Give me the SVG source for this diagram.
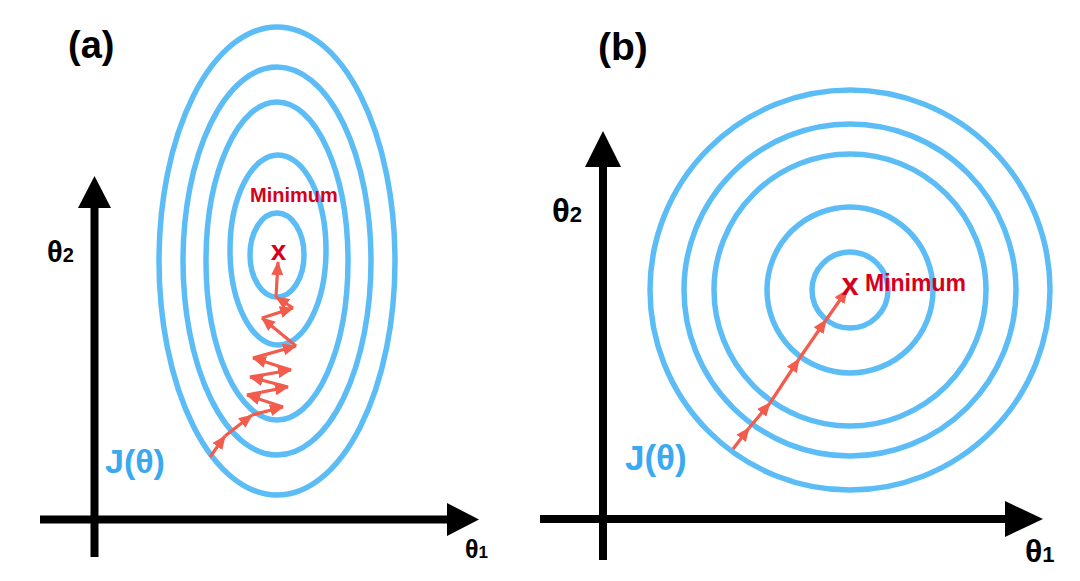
<svg xmlns="http://www.w3.org/2000/svg" width="1080" height="581" viewBox="0 0 1080 581">
<style>
.contour{fill:none;stroke:#5cbdf6;stroke-width:5.5}
.axis{stroke:#000;stroke-width:8;fill:none}
.head{fill:#000}
.step{stroke:#f25c4c;stroke-width:3.2;fill:none;marker-end:url(#ah)}
.lbl{font-family:"Liberation Sans",Arial,sans-serif;font-weight:bold}
.red{fill:#d5001c}
.blue{fill:#3aa9f0}
</style>
<defs>
<marker id="ah" viewBox="0 0 14 12" refX="13" refY="6" markerWidth="14" markerHeight="12" markerUnits="userSpaceOnUse" orient="auto">
<path d="M0,0 L14,6 L0,12 z" fill="#f25c4c"/>
</marker>
</defs>
<rect width="1080" height="581" fill="#fff"/>

<g id="panel-a">
<g id="a-contours">
<ellipse class="contour" cx="277" cy="261" rx="118" ry="234"/>
<ellipse class="contour" cx="277" cy="261" rx="94" ry="194"/>
<ellipse class="contour" cx="277" cy="261" rx="71" ry="159"/>
<ellipse class="contour" cx="278" cy="250" rx="48" ry="95"/>
<ellipse class="contour" cx="277" cy="255" rx="27" ry="42"/>
</g>
<g id="a-axes">
<line class="axis" x1="94.5" y1="557" x2="94.5" y2="204"/>
<polygon class="head" points="78,208 94.5,176 111,208"/>
<line class="axis" x1="40" y1="519.5" x2="450" y2="519.5"/>
<polygon class="head" points="447,503 479,519.5 447,536"/>
</g>
<g id="a-connectors">
<line class="step" x1="210" y1="457" x2="225" y2="436"/>
<line class="step" x1="225" y1="436" x2="252" y2="415"/>
<line class="step" x1="252" y1="415" x2="283" y2="407"/>
<line class="step" x1="283" y1="407" x2="247" y2="395"/>
<line class="step" x1="247" y1="395" x2="288" y2="387"/>
<line class="step" x1="288" y1="387" x2="250" y2="377"/>
<line class="step" x1="250" y1="377" x2="291" y2="370"/>
<line class="step" x1="291" y1="370" x2="253" y2="358"/>
<line class="step" x1="253" y1="358" x2="296" y2="346"/>
<line class="step" x1="296" y1="346" x2="262" y2="318"/>
<line class="step" x1="262" y1="318" x2="293" y2="308"/>
<line class="step" x1="293" y1="308" x2="276" y2="297"/>
<line class="step" x1="276" y1="297" x2="278" y2="262"/>
</g>
<text class="lbl" x="68" y="58" font-size="38">(a)</text>
<text class="lbl" x="47" y="262" font-size="29">θ<tspan font-size="20">2</tspan></text>
<text class="lbl" x="465" y="558" font-size="25">θ<tspan font-size="17">1</tspan></text>
<text class="lbl blue" x="105" y="473" font-size="34">J(θ)</text>
<text class="lbl red" x="250" y="202" font-size="20">Minimum</text>
<text class="lbl red" x="278.5" y="260" font-size="28" text-anchor="middle">x</text>
</g>

<g id="panel-b">
<g id="b-contours">
<circle class="contour" cx="850" cy="290" r="200"/>
<circle class="contour" cx="850" cy="290" r="166"/>
<circle class="contour" cx="850" cy="290" r="136"/>
<circle class="contour" cx="850" cy="290" r="83"/>
<circle class="contour" cx="850" cy="290" r="38"/>
</g>
<g id="b-axes">
<line class="axis" x1="603" y1="560" x2="603" y2="163"/>
<polygon class="head" points="585,167 603,131 621,167"/>
<line class="axis" x1="540" y1="519" x2="1008" y2="519"/>
<polygon class="head" points="1005,501 1043,519 1005,537"/>
</g>
<g id="b-connectors">
<line class="step" x1="733" y1="449" x2="749" y2="428"/>
<line class="step" x1="749" y1="428" x2="770" y2="403"/>
<line class="step" x1="770" y1="403" x2="799" y2="359"/>
<line class="step" x1="799" y1="359" x2="826" y2="320"/>
<line class="step" x1="826" y1="320" x2="847" y2="290"/>
</g>
<text class="lbl" x="598" y="60" font-size="39">(b)</text>
<text class="lbl" x="552" y="222" font-size="33">θ<tspan font-size="22">2</tspan></text>
<text class="lbl" x="1025" y="562" font-size="32">θ<tspan font-size="22">1</tspan></text>
<text class="lbl blue" x="625" y="470" font-size="35">J(θ)</text>
<text class="lbl red" x="865" y="291" font-size="23">Minimum</text>
<text class="lbl red" x="850" y="295" font-size="31" text-anchor="middle">x</text>
</g>
</svg>
